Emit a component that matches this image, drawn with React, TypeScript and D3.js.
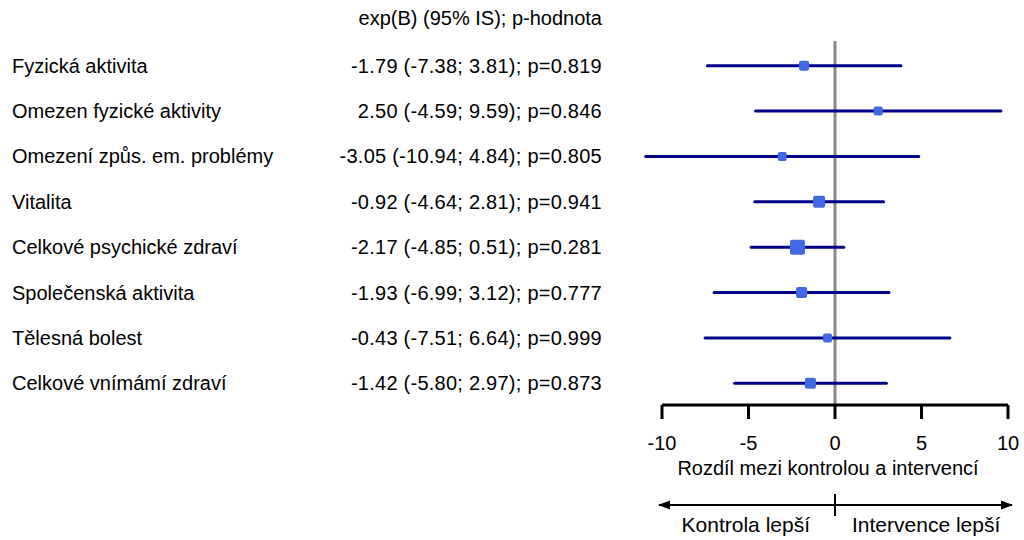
import React from "react";
import * as d3 from "d3";

const labels = [
  "Fyzická aktivita",
  "Omezen fyzické aktivity",
  "Omezení způs. em. problémy",
  "Vitalita",
  "Celkové psychické zdraví",
  "Společenská aktivita",
  "Tělesná bolest",
  "Celkové vnímámí zdraví",
];
const estimates = [-1.79, 2.5, -3.05, -0.92, -2.17, -1.93, -0.43, -1.42];
const lower = [-7.38, -4.59, -10.94, -4.64, -4.85, -6.99, -7.51, -5.8];
const upper = [3.81, 9.59, 4.84, 2.81, 0.51, 3.12, 6.64, 2.97];
const pValues = ["0.819", "0.846", "0.805", "0.941", "0.281", "0.777", "0.999", "0.873"];
const weights = [10, 9, 9, 12, 15, 11, 9, 11];
const ticks = [-10, -5, 0, 5, 10];

const W = 1024;
const H = 540;
const font = "'Liberation Sans', Arial, sans-serif";

// plain hyphen instead of unicode minus
const fmt = (v: number) => v.toFixed(2);

export default function App() {
  const x = d3.scaleLinear().domain([-10, 10]).range([662, 1008]);
  const y = d3.scaleBand().domain(labels).range([43, 406]);
  const cy = (l: string) => (y(l) as number) + y.bandwidth() / 2;
  const axisY = 405;

  return (
    <svg
      width={W}
      height={H}
      style={{ position: "absolute", left: 0, top: 0, background: "#fff" }}
      fontFamily={font}
      fontSize={20}
    >
      <text x={602} y={25} textAnchor="end" fill="#000">
        exp(B) (95% IS); p-hodnota
      </text>

      {labels.map((l, i) => (
        <g key={l}>
          <text x={12} y={cy(l) + 7} fill="#000">
            {l}
          </text>
          <text x={602} y={cy(l) + 7} textAnchor="end" fill="#000" letterSpacing={0.25}>
            {`${fmt(estimates[i])} (${fmt(lower[i])}; ${fmt(upper[i])}); p=${pValues[i]}`}
          </text>
        </g>
      ))}

      {/* reference line */}
      <line x1={x(0)} x2={x(0)} y1={41} y2={axisY} stroke="#888" strokeWidth={3} />

      {labels.map((l, i) => {
        const s = weights[i];
        return (
          <g key={"m" + l}>
            <line
              x1={x(lower[i])}
              x2={x(upper[i])}
              y1={cy(l)}
              y2={cy(l)}
              stroke="#00008B"
              strokeWidth={3}
              strokeLinecap="round"
            />
            <rect
              x={x(estimates[i]) - s / 2}
              y={cy(l) - s / 2}
              width={s}
              height={s}
              rx={2}
              fill="#4169E1"
            />
          </g>
        );
      })}

      {/* axis */}
      <line x1={x(-10)} x2={x(10)} y1={axisY} y2={axisY} stroke="#000" strokeWidth={3} />
      {ticks.map((t) => (
        <g key={t}>
          <line x1={x(t)} x2={x(t)} y1={axisY} y2={axisY + 14} stroke="#000" strokeWidth={3} />
          <text x={x(t)} y={450} textAnchor="middle" fill="#000">
            {t}
          </text>
        </g>
      ))}
      <text x={x(0) - 7} y={475} textAnchor="middle" fill="#000">
        Rozdíl mezi kontrolou a intervencí
      </text>

      {/* direction arrows */}
      <defs>
        <marker id="ah" viewBox="0 0 12 10" refX={11} refY={5} markerWidth={6} markerHeight={5} orient="auto-start-reverse">
          <path d="M0,0.5 L12,5 L0,9.5 z" fill="#000" />
        </marker>
      </defs>
      <line
        x1={659}
        x2={1012}
        y1={505}
        y2={505}
        stroke="#000"
        strokeWidth={2}
        markerStart="url(#ah)"
        markerEnd="url(#ah)"
      />
      <line x1={x(0)} x2={x(0)} y1={494} y2={516} stroke="#000" strokeWidth={2} />
      <g fontSize={21}>
        <text x={x(0) - 25} y={532} textAnchor="end" fill="#000">
          Kontrola lepší
        </text>
        <text x={x(0) + 17} y={532} textAnchor="start" fill="#000">
          Intervence lepší
        </text>
      </g>
    </svg>
  );
}
